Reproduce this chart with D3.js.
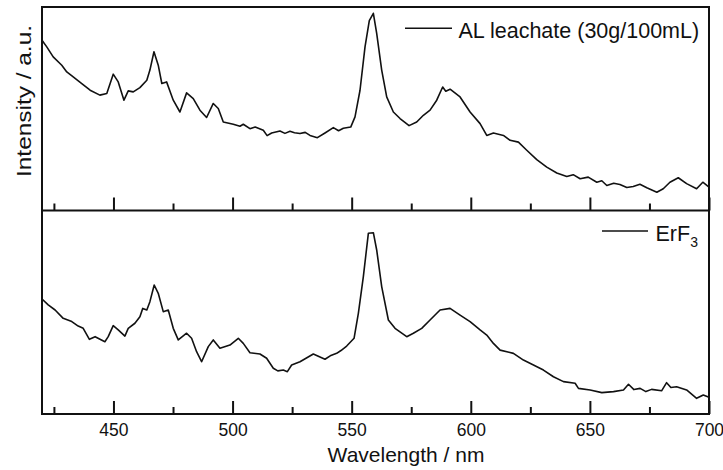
<!DOCTYPE html>
<html>
<head>
<meta charset="utf-8">
<script src="https://cdn.jsdelivr.net/npm/d3@7"></script>
<style>
  html, body { margin: 0; padding: 0; background: #fff; }
  svg { display: block; font-family: "Liberation Sans", Arial, sans-serif; }
</style>
</head>
<body>
<div id="chart"></div>
<script>
// wavelength (nm) / intensity (a.u.)
const alWave = [420, 422, 424.7, 428.3, 430.4, 433.1, 436.7, 440.2, 444.3, 447.2, 449.9, 452, 454.4, 456.2, 458.3,
  461.1, 464, 465.3, 467, 468.8, 470.3, 472.3, 475.1, 477.9, 480.7, 483.5, 486.3, 489.1, 491.9, 494, 496.1,
  500.3, 503.1, 504.5, 507.3, 509.5, 512.9, 514.5, 516.4, 519.9, 522, 524.1, 526, 528.3, 530.5, 532.5, 535.6,
  538.8, 542.3, 544.5, 546.5, 549.6, 551.4, 553.5, 555.6, 557.4, 559.1, 560.5, 562.6, 564.7, 567.5, 570.3,
  574.1, 577.3, 580.1, 582.9, 585.7, 588.2, 589.5, 591.3, 595.5, 599.7, 603.9, 606.7, 609.5, 613.7, 616.5,
  620, 623.5, 627.7, 631.9, 636.1, 640.3, 643, 645.9, 649.3, 652.9, 655, 657.1, 660, 662.6, 665.5, 668.2,
  671, 673.9, 676, 678.1, 680.8, 683.6, 687.1, 690.6, 694.8, 697.4, 700];
const alVals = [83.7, 80.4, 75.5, 71.4, 68.1, 65.7, 62.4, 59.1, 56.7, 57.5, 67.0, 63.2, 54.2, 58.8, 58.3,
  60.4, 64.0, 69.0, 78.0, 71.4, 62.4, 63.2, 54.2, 48.4, 57.8, 55.0, 49.3, 45.7, 52.6, 50.1, 43.5,
  42.4, 41.4, 42.4, 40.2, 41.0, 39.4, 36.8, 38.1, 39.1, 37.9, 38.9, 38.2, 37.8, 38.4, 36.9, 35.8,
  38.1, 40.7, 39.2, 40.4, 41.0, 46.0, 59.1, 80.4, 93.3, 96.9, 87.0, 69.0, 55.8, 48.4, 45.2,
  41.7, 43.5, 46.8, 49.3, 54.2, 60.7, 58.6, 59.6, 55.8, 48.4, 42.7, 36.9, 38.1, 36.9, 34.5,
  33.6, 29.6, 25.0, 21.3, 18.4, 16.7, 17.6, 15.6, 16.4, 13.9, 14.6, 12.3, 13.4, 12.8, 11.3, 11.8,
  12.9, 11.2, 10.1, 9.0, 10.7, 13.9, 16.1, 13.2, 10.7, 13.9, 11.5];

const erWave = [420, 422.6, 425.5, 428.9, 432.5, 435.2, 437.3, 439.9, 442.3, 446.4, 447.8, 449.9, 452, 454.8,
  456.2, 459, 461.1, 462.3, 464, 465.3, 467.1, 468.8, 470.9, 473, 475.1, 477.2, 480.7, 482.8, 484.9, 487,
  489.8, 491.9, 494.7, 498.9, 502.4, 504.5, 507.3, 511.5, 514.3, 517.1, 519, 521.3, 523, 524.8, 528.3,
  533.9, 538.8, 541, 543.7, 545.5, 547.9, 551, 552.8, 554.9, 557, 559.1, 560.5, 562.6, 565.4, 568.2, 573.1,
  575.9, 579.4, 582.9, 587.1, 591.3, 595.5, 599.7, 603.9, 606.7, 609.5, 612.3, 617.9, 622.1, 626.3, 630.5,
  634.7, 638.9, 643.8, 645.2, 650.1, 655, 659.9, 664.1, 666.2, 668.5, 671.1, 673.5, 675.9, 680.1, 682.2,
  684, 686.4, 690.6, 694.8, 697.6, 700];
const erVals = [56.5, 53.6, 51.1, 47.0, 45.4, 43.2, 42.1, 36.7, 38.0, 35.5, 38.0, 43.4, 41.3, 38.3,
  42.1, 44.6, 47.8, 51.9, 51.1, 55.2, 63.4, 59.3, 50.3, 51.1, 42.1, 36.4, 39.7, 37.2, 30.6, 25.7,
  33.1, 36.4, 32.3, 33.9, 37.2, 34.7, 30.1, 29.5, 27.4, 22.5, 21.2, 21.6, 20.8, 24.1, 25.7,
  29.5, 26.9, 28.6, 29.8, 31.2, 33.4, 37.2, 49.5, 67.5, 88.8, 89.1, 80.6, 62.6, 46.2, 42.1, 38.0,
  39.7, 42.1, 46.2, 51.1, 51.9, 48.6, 45.4, 41.3, 38.8, 34.7, 31.4, 29.8, 26.5, 24.1, 21.6,
  18.3, 15.9, 15.1, 12.6, 11.8, 10.5, 11.0, 11.8, 14.6, 12.0, 12.6, 11.0, 12.1, 11.4, 15.4,
  13.0, 13.4, 11.8, 7.7, 9.3, 8.2];

const majorTicks = [450, 500, 550, 600, 650, 700];
const minorTicks = [425, 475, 525, 575, 625, 675];

const width = 723, height = 470;
const plotLeft = 42, plotRight = 709, plotTop = 7, plotMid = 210.5, plotBottom = 414;

const svg = d3.select('#chart').append('svg')
  .attr('width', width)
  .attr('height', height);

const x = d3.scaleLinear().domain([420, 700]).range([plotLeft, plotRight]);
const yTop = d3.scaleLinear().domain([0, 100]).range([plotMid, plotTop]);
const yBot = d3.scaleLinear().domain([0, 100]).range([plotBottom, plotMid]);

// 两个面板: 曲线
function drawSpectrum(waves, vals, y) {
  const pts = waves.map((w, i) => [w, vals[i]]);
  svg.append('path')
    .datum(pts)
    .attr('fill', 'none')
    .attr('stroke', '#111')
    .attr('stroke-width', 1.6)
    .attr('stroke-linejoin', 'round')
    .attr('d', d3.line().x(d => x(d[0])).y(d => y(d[1])));
}
drawSpectrum(alWave, alVals, yTop);
drawSpectrum(erWave, erVals, yBot);

// inward ticks at the bottom of each panel
[plotMid, plotBottom].forEach(yb => {
  svg.append('g')
    .attr('transform', `translate(0,${yb})`)
    .call(d3.axisTop(x).tickValues(majorTicks).tickSize(13).tickFormat(''))
    .call(g => g.select('.domain').remove())
    .call(g => g.selectAll('line').attr('stroke', '#111').attr('stroke-width', 2));
  svg.append('g')
    .attr('transform', `translate(0,${yb})`)
    .call(d3.axisTop(x).tickValues(minorTicks).tickSize(7).tickFormat(''))
    .call(g => g.select('.domain').remove())
    .call(g => g.selectAll('line').attr('stroke', '#111').attr('stroke-width', 2));
});

// frames
svg.append('rect')
  .attr('x', plotLeft).attr('y', plotTop)
  .attr('width', plotRight - plotLeft).attr('height', plotBottom - plotTop)
  .attr('fill', 'none').attr('stroke', '#111').attr('stroke-width', 2);
svg.append('line')
  .attr('x1', plotLeft).attr('x2', plotRight)
  .attr('y1', plotMid).attr('y2', plotMid)
  .attr('stroke', '#111').attr('stroke-width', 2);

// tick labels
svg.append('g')
  .attr('transform', `translate(0,${plotBottom})`)
  .call(d3.axisBottom(x).tickValues(majorTicks).tickSize(0).tickPadding(0).tickFormat(d3.format('d')))
  .call(g => g.select('.domain').remove())
  .call(g => g.selectAll('text')
    .attr('dy', null)
    .attr('y', 21.5)
    .attr('fill', '#111')
    .style('font-family', '"Liberation Sans", Arial, sans-serif')
    .style('font-size', '17.5px'));

// axis titles
svg.append('text')
  .attr('x', 406).attr('y', 461.5)
  .attr('text-anchor', 'middle')
  .attr('fill', '#111')
  .style('font-size', '21px')
  .text('Wavelength / nm');

svg.append('text')
  .attr('transform', 'translate(31,101) rotate(-90)')
  .attr('text-anchor', 'middle')
  .attr('fill', '#111')
  .attr('textLength', 152)
  .attr('lengthAdjust', 'spacingAndGlyphs')
  .style('font-size', '21px')
  .text('Intensity / a.u.');

// legends
svg.append('line')
  .attr('x1', 405).attr('x2', 452)
  .attr('y1', 28.3).attr('y2', 28.3)
  .attr('stroke', '#111').attr('stroke-width', 1.6);
svg.append('text')
  .attr('x', 458.5).attr('y', 37.5)
  .attr('fill', '#111')
  .style('font-size', '21.5px')
  .text('AL leachate (30g/100mL)');

svg.append('line')
  .attr('x1', 602).attr('x2', 648)
  .attr('y1', 231).attr('y2', 231)
  .attr('stroke', '#111').attr('stroke-width', 1.6);
const er = svg.append('text')
  .attr('x', 655.5).attr('y', 241)
  .attr('fill', '#111')
  .style('font-size', '21.5px');
er.append('tspan').text('ErF');
er.append('tspan')
  .attr('dy', 6)
  .style('font-size', '14px')
  .text('3');
</script>
</body>
</html>
